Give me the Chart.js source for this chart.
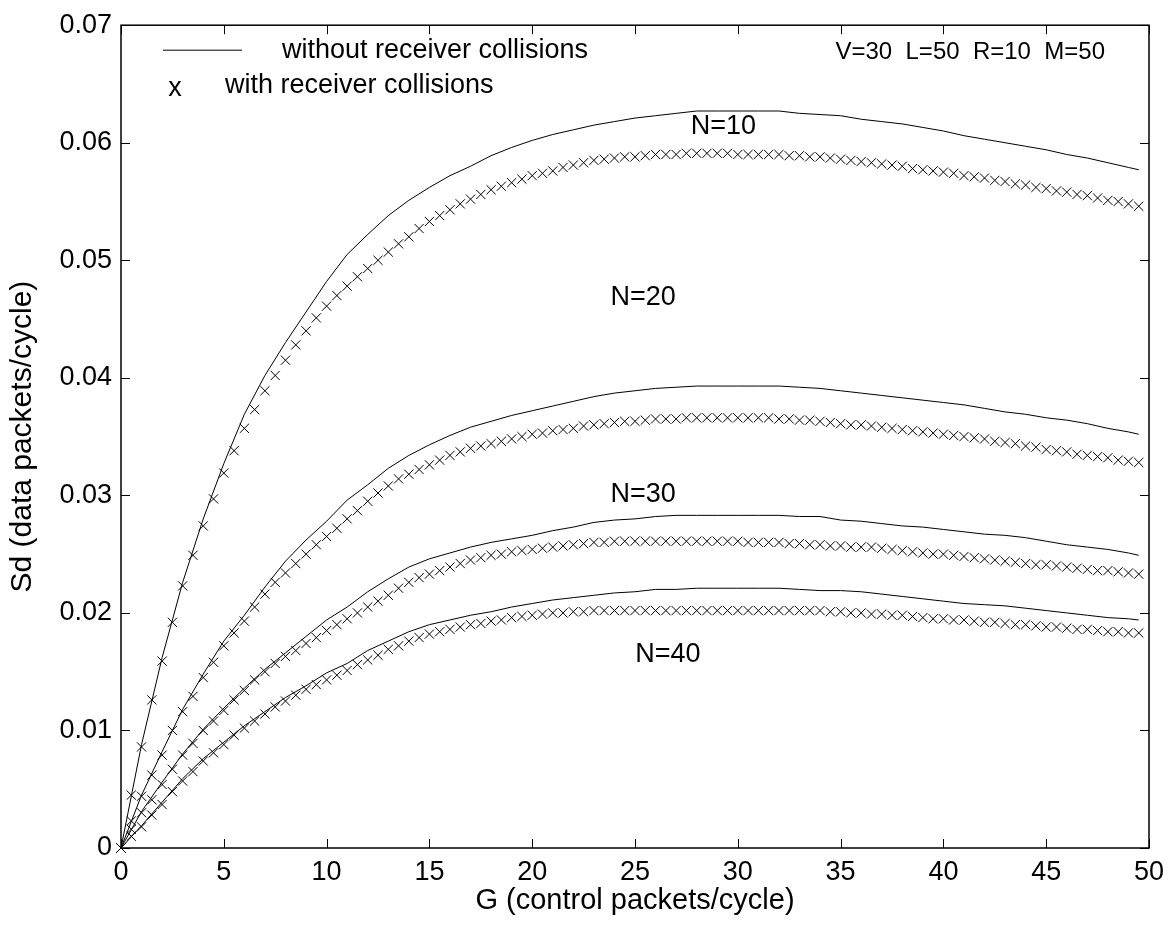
<!DOCTYPE html>
<html>
<head>
<meta charset="utf-8">
<script src="https://cdn.jsdelivr.net/npm/chart.js@4.4.1/dist/chart.umd.min.js"></script>
<style>
  html, body { margin: 0; padding: 0; background: #fff; }
</style>
</head>
<body>
<canvas id="myChart" width="1175" height="930"></canvas>
<script>
// G grid: markers every 0.5, solid curves every 1
const gCross = Array.from({ length: 100 }, (_, i) => i * 0.5);
const gLine = Array.from({ length: 50 }, (_, i) => i).concat([49.5]);

const yTicks = [0, 0.01, 0.02, 0.03, 0.04, 0.05, 0.06, 0.07];
const xTicks = [0, 5, 10, 15, 20, 25, 30, 35, 40, 45, 50];

// without receiver collisions (solid)
const lineN10 = [0, .0088, .0162, .0226, .0280, .0327, .0369, .0402, .0430, .0456,
  .0482, .0505, .0522, .0538, .0551, .0562, .0572, .0580, .0589, .0596,
  .0602, .0607, .0611, .0615, .0618, .0621, .0623, .0625, .0627, .0627,
  .0627, .0627, .0627, .0625, .0624, .0623, .0620, .0618, .0616, .0613,
  .0610, .0606, .0603, .0600, .0597, .0594, .0590, .0587, .0583, .0579,
  .0577];
const lineN20 = [0, .0045, .0082, .0118, .0148, .0176, .0198, .0222, .0244, .0262,
  .0278, .0296, .0309, .0323, .0334, .0343, .0351, .0358, .0363, .0368,
  .0372, .0376, .0380, .0384, .0387, .0389, .0391, .0392, .0393, .0393,
  .0393, .0393, .0393, .0392, .0391, .0389, .0387, .0385, .0383, .0381,
  .0379, .0377, .0374, .0371, .0369, .0366, .0364, .0361, .0357, .0354,
  .0352];
const lineN30 = [0, .0031, .0056, .0080, .0101, .0119, .0136, .0152, .0166, .0180,
  .0194, .0205, .0218, .0229, .0239, .0246, .0251, .0256, .0260, .0263,
  .0266, .0270, .0273, .0277, .0279, .0280, .0282, .0283, .0283, .0283,
  .0283, .0283, .0283, .0282, .0282, .0279, .0278, .0276, .0274, .0273,
  .0271, .0269, .0267, .0266, .0264, .0261, .0258, .0256, .0254, .0251,
  .0249];
const lineN40 = [0, .0019, .0039, .0059, .0076, .0090, .0104, .0116, .0128, .0138,
  .0149, .0157, .0168, .0176, .0184, .0190, .0194, .0198, .0201, .0205,
  .0208, .0211, .0213, .0215, .0217, .0218, .0220, .0220, .0221, .0221,
  .0221, .0221, .0221, .0220, .0219, .0219, .0218, .0216, .0214, .0212,
  .0210, .0208, .0207, .0206, .0204, .0202, .0200, .0198, .0196, .0195,
  .0194];

// with receiver collisions (x markers)
const crossN10 = [0, .0045, .0086, .0126, .0159, .0192, .0223, .0249, .0274, .0297,
  .0319, .0338, .0357, .0373, .0389, .0402, .0415, .0428, .0440, .0451,
  .0461, .0470, .0478, .0486, .0493, .0500, .0507, .0514, .0520, .0527,
  .0533, .0538, .0543, .0548, .0552, .0556, .0560, .0563, .0566, .0569,
  .0572, .0574, .0576, .0579, .0581, .0583, .0585, .0586, .0587, .0588,
  .0588, .0589, .0590, .0590, .0590, .0591, .0591, .0591, .0591, .0591,
  .0590, .0590, .0590, .0590, .0590, .0589, .0589, .0588, .0588, .0587,
  .0586, .0585, .0584, .0583, .0582, .0581, .0580, .0578, .0577, .0576,
  .0575, .0574, .0572, .0571, .0570, .0568, .0567, .0565, .0564, .0562,
  .0561, .0559, .0558, .0556, .0555, .0553, .0551, .0550, .0548, .0546];
const crossN20 = [0, .0023, .0044, .0062, .0079, .0100, .0116, .0129, .0145, .0158,
  .0172, .0183, .0193, .0205, .0216, .0226, .0234, .0242, .0250, .0258,
  .0265, .0272, .0280, .0287, .0295, .0302, .0308, .0314, .0318, .0322,
  .0326, .0330, .0334, .0337, .0340, .0342, .0344, .0346, .0348, .0350,
  .0352, .0353, .0355, .0356, .0357, .0359, .0360, .0361, .0362, .0363,
  .0363, .0364, .0365, .0365, .0365, .0366, .0366, .0366, .0366, .0366,
  .0366, .0366, .0366, .0366, .0365, .0365, .0364, .0364, .0363, .0362,
  .0361, .0360, .0360, .0359, .0358, .0357, .0356, .0355, .0354, .0353,
  .0352, .0351, .0350, .0349, .0348, .0346, .0345, .0344, .0342, .0341,
  .0339, .0338, .0337, .0335, .0334, .0333, .0332, .0330, .0329, .0328];
const crossN30 = [0, .0016, .0030, .0041, .0054, .0067, .0079, .0089, .0100, .0108,
  .0117, .0126, .0134, .0143, .0150, .0157, .0163, .0168, .0174, .0179,
  .0185, .0190, .0195, .0200, .0205, .0210, .0215, .0221, .0226, .0230,
  .0233, .0236, .0239, .0242, .0245, .0247, .0249, .0250, .0252, .0253,
  .0254, .0255, .0256, .0257, .0258, .0259, .0260, .0260, .0261, .0261,
  .0261, .0261, .0261, .0261, .0261, .0261, .0261, .0261, .0261, .0261,
  .0261, .0260, .0260, .0260, .0260, .0259, .0259, .0258, .0258, .0257,
  .0257, .0256, .0256, .0256, .0255, .0254, .0253, .0252, .0251, .0250,
  .0250, .0249, .0248, .0247, .0246, .0245, .0244, .0243, .0242, .0241,
  .0241, .0240, .0239, .0238, .0237, .0236, .0236, .0235, .0234, .0233];
const crossN40 = [0, .0010, .0018, .0028, .0037, .0048, .0057, .0065, .0074, .0081,
  .0088, .0096, .0102, .0108, .0114, .0120, .0125, .0130, .0135, .0139,
  .0143, .0147, .0151, .0156, .0160, .0164, .0169, .0172, .0176, .0179,
  .0182, .0184, .0186, .0188, .0190, .0191, .0193, .0194, .0196, .0197,
  .0198, .0199, .0200, .0200, .0201, .0201, .0202, .0202, .0202, .0202,
  .0202, .0202, .0202, .0202, .0202, .0202, .0202, .0202, .0202, .0202,
  .0202, .0202, .0202, .0202, .0202, .0202, .0202, .0202, .0202, .0201,
  .0201, .0200, .0200, .0199, .0199, .0198, .0198, .0197, .0196, .0195,
  .0195, .0194, .0194, .0193, .0192, .0192, .0191, .0190, .0190, .0189,
  .0188, .0188, .0187, .0186, .0186, .0185, .0184, .0184, .0183, .0183];

const FONT = '"Liberation Sans", Arial, sans-serif';

const toPoints = (gs, vs) => gs.map((g, i) => ({ x: g, y: vs[i] }));

function solid(vals) {
  return {
    data: toPoints(gLine, vals),
    showLine: true,
    borderColor: '#000',
    borderWidth: 1,
    pointRadius: 0,
    tension: 0,
    clip: false
  };
}

function marks(vals) {
  return {
    data: toPoints(gCross, vals),
    showLine: false,
    pointStyle: 'crossRot',
    pointRadius: 6.5,
    borderColor: '#000',
    pointBorderWidth: 1,
    clip: false
  };
}

// box, inward ticks, legend and curve labels
const decor = {
  id: 'decor',
  afterDatasetsDraw(chart) {
    const { ctx, chartArea: a, scales: { x, y } } = chart;
    ctx.save();
    ctx.strokeStyle = '#000';
    ctx.lineWidth = 1;
    ctx.beginPath();
    xTicks.forEach(v => {
      const px = Math.round(x.getPixelForValue(v)) + 0.5;
      ctx.moveTo(px, a.bottom); ctx.lineTo(px, a.bottom - 9);
      ctx.moveTo(px, a.top); ctx.lineTo(px, a.top + 9);
    });
    yTicks.forEach(v => {
      const py = Math.round(y.getPixelForValue(v)) + 0.5;
      ctx.moveTo(a.left, py); ctx.lineTo(a.left + 9, py);
      ctx.moveTo(a.right, py); ctx.lineTo(a.right - 9, py);
    });
    ctx.stroke();
    ctx.lineWidth = 1.5;
    ctx.strokeRect(a.left, a.top, a.right - a.left, a.bottom - a.top);

    ctx.fillStyle = '#000';
    ctx.font = '27px ' + FONT;
    ctx.textBaseline = 'middle';

    // legend
    ctx.lineWidth = 1;
    ctx.beginPath();
    ctx.moveTo(a.left + 42, a.top + 25);
    ctx.lineTo(a.left + 121, a.top + 25);
    ctx.stroke();
    ctx.textAlign = 'left';
    ctx.fillText('without receiver collisions', a.left + 161, a.top + 25);
    ctx.textAlign = 'center';
    ctx.fillText('x', a.left + 54, a.top + 63);
    ctx.textAlign = 'left';
    ctx.fillText('with receiver collisions', a.left + 104, a.top + 60);

    ctx.font = '24px ' + FONT;
    ctx.textAlign = 'right';
    ctx.fillText('V=30  L=50  R=10  M=50', a.right - 44, a.top + 27);

    // curve labels
    ctx.font = '27px ' + FONT;
    ctx.textAlign = 'center';
    [['N=10', 29.3, 0.0614], ['N=20', 25.4, 0.0468],
     ['N=30', 25.4, 0.0301], ['N=40', 26.6, 0.0165]].forEach(([t, g, s]) => {
      ctx.fillText(t, x.getPixelForValue(g), y.getPixelForValue(s));
    });
    ctx.restore();
  }
};

new Chart(document.getElementById('myChart'), {
  type: 'scatter',
  data: {
    datasets: [
      solid(lineN10), marks(crossN10),
      solid(lineN20), marks(crossN20),
      solid(lineN30), marks(crossN30),
      solid(lineN40), marks(crossN40)
    ]
  },
  options: {
    responsive: false,
    animation: false,
    layout: { padding: { top: 20, right: 26, left: 0, bottom: 0 } },
    plugins: { legend: { display: false }, tooltip: { enabled: false } },
    scales: {
      x: {
        type: 'linear', min: 0, max: 50,
        grid: { display: false, drawTicks: false },
        border: { display: false },
        afterBuildTicks: s => { s.ticks = xTicks.map(v => ({ value: v })); },
        afterFit: s => { s.height = 82; },
        ticks: { color: '#000', padding: 8, font: { family: FONT, size: 27 } },
        title: {
          display: true, text: 'G (control packets/cycle)', color: '#000',
          font: { family: FONT, size: 29 }, padding: { top: 0, bottom: 12 }
        }
      },
      y: {
        min: 0, max: 0.07,
        grid: { display: false, drawTicks: false },
        border: { display: false },
        afterBuildTicks: s => { s.ticks = yTicks.map(v => ({ value: v })); },
        afterFit: s => { s.width = 121; },
        ticks: {
          color: '#000', padding: 9, font: { family: FONT, size: 27 },
          callback: v => (v === 0 ? '0' : v.toFixed(2))
        },
        title: {
          display: true, text: 'Sd (data packets/cycle)', color: '#000',
          font: { family: FONT, size: 30 }, padding: { top: 5, bottom: 0 }
        }
      }
    }
  },
  plugins: [decor]
});
</script>
</body>
</html>
